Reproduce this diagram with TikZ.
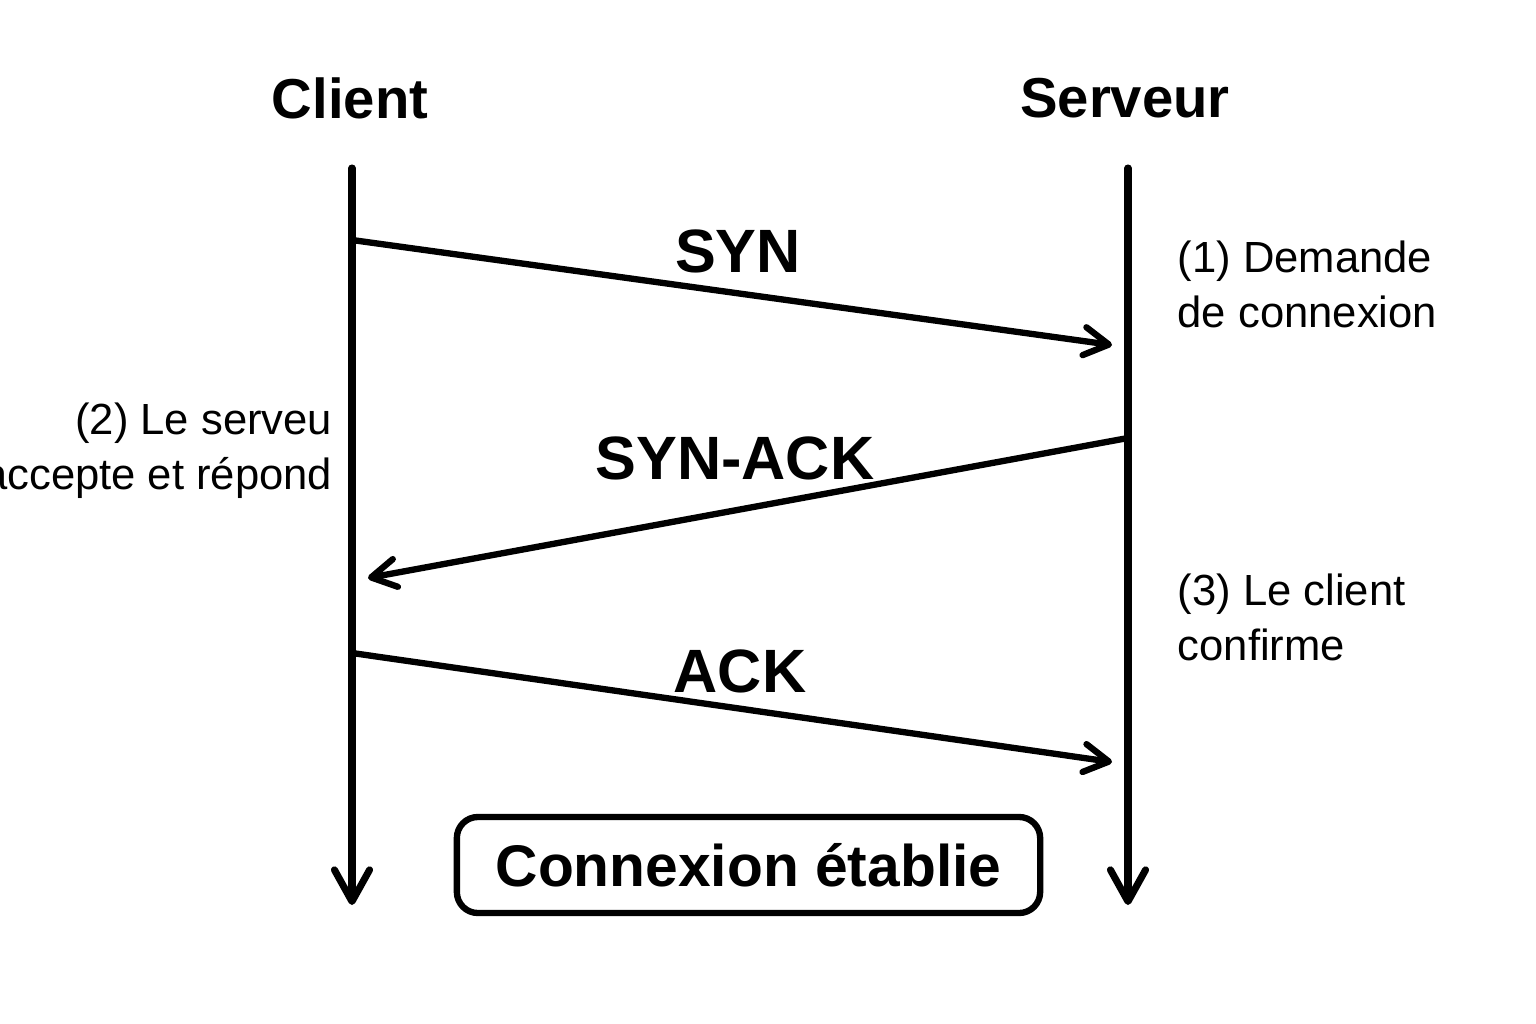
\documentclass[tikz,border=0pt]{standalone}
\usepackage{fontspec}
\setmainfont{Liberation Sans}
\usetikzlibrary{arrows.meta}
\tikzset{
  lifeline/.style={line width=2pt, -{Straight Barb[length=9pt,width=10pt,line cap=round,line join=round]}, line cap=round},
  msg/.style={line width=1.8pt, -{Straight Barb[length=7pt,width=8pt,line cap=round,line join=round]}, line cap=round},
  title/.style={font=\fontsize{16}{19}\selectfont\bfseries, inner sep=0pt},
  msglabel/.style={font=\fontsize{17.4}{21}\selectfont\bfseries, inner sep=0pt},
  note/.style={font=\fontsize{12.4}{15.6}\selectfont, inner sep=0pt},
  statebox/.style={draw, line width=1.8pt, rounded corners=6pt, minimum width=5.83cm, minimum height=0.96cm, inner sep=0pt, font=\fontsize{16.7}{20}\selectfont\bfseries}
}
\begin{document}
\begin{tikzpicture}[x=0.01cm, y=-0.01cm]
\useasboundingbox (0,0) rectangle (1536,1024);
% titles
\node[title] (client) at (350,98) {Client};
\node[title] (server) at (1125,98) {Serveur};
% lifelines
\coordinate (ctop) at (352,168);
\coordinate (cbot) at (352,905);
\coordinate (stop) at (1128,168);
\coordinate (sbot) at (1128,905);
\draw[lifeline] (ctop) -- (cbot);
\draw[lifeline] (stop) -- (sbot);
% messages
\coordinate (syn1) at (352,240);
\coordinate (syn2) at (1112,345);
\coordinate (sa1) at (1128,438);
\coordinate (sa2) at (368,578);
\coordinate (ack1) at (352,653);
\coordinate (ack2) at (1112,762);
\draw[msg] (syn1) -- (syn2);
\draw[msg] (sa1) -- (sa2);
\draw[msg] (ack1) -- (ack2);
\node[msglabel] (synl) at (738,251) {SYN};
\node[msglabel] (sal) at (735,458) {SYN-ACK};
\node[msglabel] (ackl) at (740,671) {ACK};
% notes
\node[note, anchor=west, align=left] (n1) at (1177,284) {(1) Demande\\de connexion};
\node[note, anchor=east, align=right] (n2) at (333,451) {(2) Le serveu\\accepte et répond};
\node[note, anchor=west, align=left] (n3) at (1177,617) {(3) Le client\\confirme};
% box
\node[statebox] (est) at (748.5,865) {Connexion établie};
\end{tikzpicture}
\end{document}
